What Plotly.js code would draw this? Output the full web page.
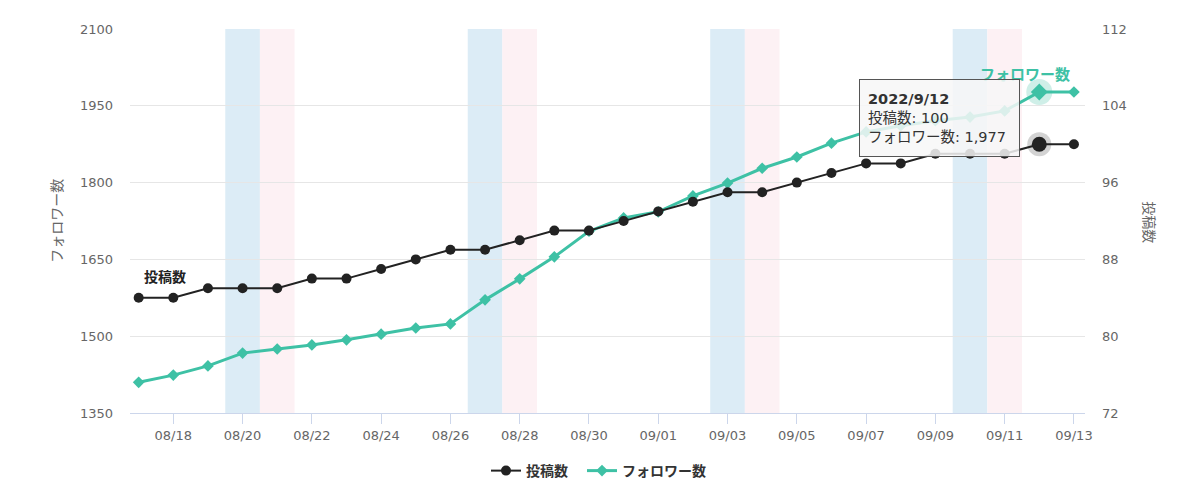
<!DOCTYPE html>
<html>
<head>
<meta charset="utf-8">
<script src="https://cdn.plot.ly/plotly-3.0.1.min.js"></script>
<style>
html,body{margin:0;padding:0;background:#fff;}
#chart{width:1200px;height:493px;}
</style>
</head>
<body>
<div id="chart"></div>
<script>
// ---- data ----
const dates = [
  '2022-08-17','2022-08-18','2022-08-19','2022-08-20','2022-08-21','2022-08-22','2022-08-23',
  '2022-08-24','2022-08-25','2022-08-26','2022-08-27','2022-08-28','2022-08-29','2022-08-30',
  '2022-08-31','2022-09-01','2022-09-02','2022-09-03','2022-09-04','2022-09-05','2022-09-06',
  '2022-09-07','2022-09-08','2022-09-09','2022-09-10','2022-09-11','2022-09-12','2022-09-13'
];
const posts = [84,84,85,85,85,86,86,87,88,89,89,90,91,91,92,93,94,95,95,96,97,98,98,99,99,99,100,100];
const followers = [1410,1424,1442,1467,1475,1483,1493,1504,1516,1524,1571,1612,1655,1705,1731,1743,1774,1799,1828,1850,1877,1899,1911,1921,1928,1940,1977,1977];
const tickDates = ['2022-08-18','2022-08-20','2022-08-22','2022-08-24','2022-08-26','2022-08-28','2022-08-30',
  '2022-09-01','2022-09-03','2022-09-05','2022-09-07','2022-09-09','2022-09-11','2022-09-13'];
const tickLabels = ['08/18','08/20','08/22','08/24','08/26','08/28','08/30','09/01','09/03','09/05','09/07','09/09','09/11','09/13'];
const hoverDate = '2022-09-12';
const postsName = '投稿数';
const followersName = 'フォロワー数';

// ---- styles ----
const BLACK = '#222222';
const TEAL = '#3ec1a5';
const FONT = '"DejaVu Sans", "Noto Sans CJK JP", sans-serif';
const JFONT = '"Noto Sans CJK JP", "DejaVu Sans", sans-serif';

function shiftDate(d, hours){
  const t = new Date(d + 'T00:00:00Z').getTime() + hours*3600*1000;
  const dt = new Date(t);
  const p = n => String(n).padStart(2,'0');
  return dt.getUTCFullYear()+'-'+p(dt.getUTCMonth()+1)+'-'+p(dt.getUTCDate())+' '+p(dt.getUTCHours())+':'+p(dt.getUTCMinutes());
}

// weekend bands (Sat blue, Sun pink)
const shapes = [];
dates.forEach(d => {
  const dow = new Date(d + 'T00:00:00Z').getUTCDay();
  if (dow === 6 || dow === 0) {
    shapes.push({
      type:'rect', xref:'x', yref:'paper', layer:'below',
      x0: shiftDate(d,-12), x1: shiftDate(d,12), y0:0, y1:1,
      fillcolor: dow === 6 ? '#dcecf6' : '#fdf1f4', line:{width:0}
    });
  }
});

const hi = dates.indexOf(hoverDate);

const traces = [
  {
    x: dates, y: posts, name: postsName, yaxis:'y2', type:'scatter', mode:'lines+markers', legend:'legend',
    line:{color:BLACK, width:2}, marker:{symbol:'circle', size:10, color:BLACK}
  },
  {
    x: dates, y: followers, name: followersName, yaxis:'y', type:'scatter', mode:'lines+markers', legend:'legend2',
    line:{color:TEAL, width:3}, marker:{symbol:'diamond', size:9, color:TEAL}
  },
  // hover halos
  {
    x:[dates[hi]], y:[posts[hi]], yaxis:'y2', mode:'markers', showlegend:false,
    marker:{symbol:'circle', size:24, color:'rgba(34,34,34,0.2)'}
  },
  {
    x:[dates[hi]], y:[posts[hi]], yaxis:'y2', mode:'markers', showlegend:false,
    marker:{symbol:'circle', size:15, color:BLACK}
  },
  {
    x:[dates[hi]], y:[followers[hi]], yaxis:'y', mode:'markers', showlegend:false,
    marker:{symbol:'circle', size:26, color:'rgba(62,193,165,0.25)'}
  },
  {
    x:[dates[hi]], y:[followers[hi]], yaxis:'y', mode:'markers', showlegend:false,
    marker:{symbol:'diamond', size:13, color:TEAL}
  }
];

const d = hoverDate.split('-');
const tipText = '<b>' + d[0] + '/' + Number(d[1]) + '/' + Number(d[2]) + '</b><br>' +
  postsName + ': ' + posts[hi] + '<br>' +
  followersName + ': ' + followers[hi].toLocaleString('en-US');

const legendFont = {size:14, color:'#333', family:JFONT, weight:'bold'};

const layout = {
  width:1200, height:493,
  margin:{l:130, r:115, t:29, b:80, autoexpand:false},
  paper_bgcolor:'#fff', plot_bgcolor:'#fff',
  font:{family:FONT, color:'#666', size:13},
  hovermode:false,
  showlegend:true,
  legend:{orientation:'h', x:486/1200, xanchor:'left', xref:'container', y:0.0446, yref:'container', yanchor:'middle',
    font:legendFont, itemwidth:30, bgcolor:'rgba(0,0,0,0)'},
  legend2:{orientation:'h', x:582/1200, xanchor:'left', xref:'container', y:0.0446, yref:'container', yanchor:'middle',
    font:legendFont, itemwidth:30, bgcolor:'rgba(0,0,0,0)'},
  xaxis:{
    type:'date', range:['2022-08-16 18:00','2022-09-13 07:40'],
    tickvals: tickDates, ticktext: tickLabels,
    showgrid:false, showline:true, linecolor:'#ccd6eb', linewidth:1,
    ticks:'outside', ticklen:10, tickcolor:'#ccd6eb', tickwidth:1,
    tickfont:{size:13, color:'#666'}, zeroline:false, fixedrange:true
  },
  yaxis:{
    range:[1350,2100], tickvals:[1350,1500,1650,1800,1950,2100],
    showgrid:true, gridcolor:'#e6e6e6', gridwidth:1, zeroline:false, showline:false,
    ticks:'', ticklabelstandoff:16, tickfont:{size:13, color:'#666'}
  },
  yaxis2:{
    overlaying:'y', side:'right', range:[72,112], tickvals:[72,80,88,96,104,112],
    showgrid:false, zeroline:false, showline:false, ticks:'', ticklabelstandoff:16,
    tickfont:{size:13, color:'#666'}
  },
  shapes: shapes,
  annotations:[
    {xref:'paper', yref:'paper', x:-0.077, y:0.502, text:followersName, textangle:-90, showarrow:false,
      font:{size:14, color:'#666', family:JFONT}, xanchor:'center', yanchor:'middle'},
    {xref:'paper', yref:'paper', x:1.068, y:0.497, text:postsName, textangle:90, showarrow:false,
      font:{size:14, color:'#666', family:JFONT}, xanchor:'center', yanchor:'middle'},
    {xref:'x', yref:'paper', x:dates[0], xshift:3, y:0.357, text:'<b>'+postsName+'</b>', showarrow:false,
      font:{size:14, color:'#222', family:JFONT}, xanchor:'left', yanchor:'middle'},
    {xref:'paper', yref:'paper', x:0.986, y:0.883, text:'<b>'+followersName+'</b>', showarrow:false,
      font:{size:15, color:TEAL, family:JFONT}, xanchor:'right', yanchor:'middle'},
    {xref:'x', yref:'paper', x:dates[hi], xshift:-19, y:0.870, text:tipText, showarrow:false,
      align:'left', valign:'middle', xanchor:'right', yanchor:'top', width:143, height:60,
      bgcolor:'rgba(247,247,247,0.85)', bordercolor:'#555', borderwidth:1, borderpad:8,
      font:{size:14.5, color:'#333', family:FONT}}
  ]
};

Plotly.newPlot('chart', traces, layout, {displayModeBar:false, staticPlot:true});
</script>
</body>
</html>
